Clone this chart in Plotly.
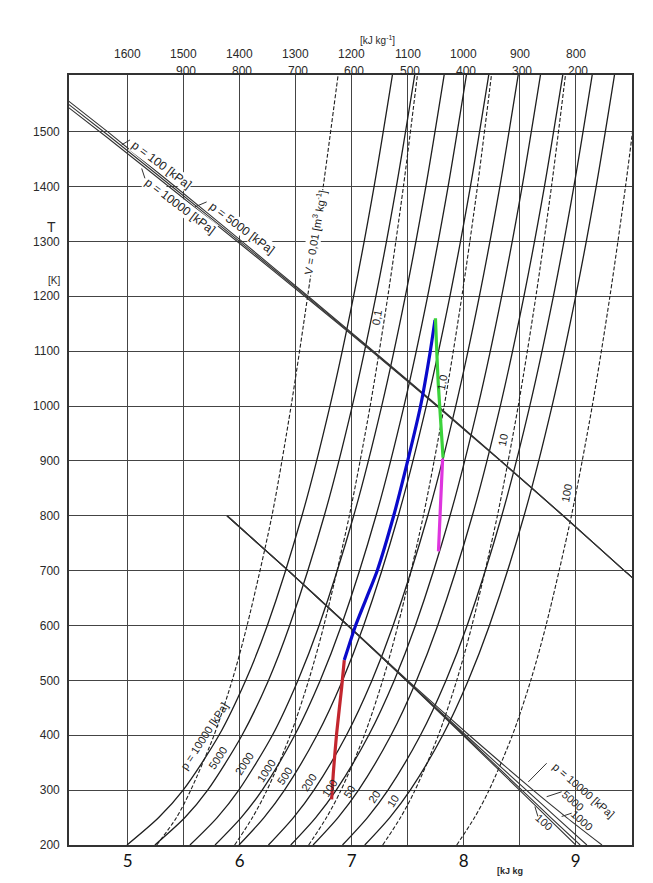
import plotly.graph_objects as go

# ---------------- data ----------------
T_grid = [200, 250, 300, 400, 500, 600, 800, 1000, 1200, 1400, 1605]

# isobars: entropy s [kJ/kg K] at T_grid
p10000_s = [4.994, 5.277, 5.495, 5.815, 6.053, 6.247, 6.556, 6.806, 7.017, 7.200, 7.365]
p5000_s = [5.243, 5.511, 5.714, 6.021, 6.257, 6.446, 6.755, 7.005, 7.216, 7.399, 7.564]
p2000_s = [5.556, 5.799, 5.992, 6.292, 6.520, 6.709, 7.018, 7.268, 7.479, 7.662, 7.827]
p1000_s = [5.780, 6.013, 6.201, 6.491, 6.719, 6.908, 7.217, 7.467, 7.678, 7.861, 8.026]
p500_s = [5.994, 6.217, 6.400, 6.690, 6.918, 7.107, 7.416, 7.666, 7.877, 8.060, 8.225]
p200_s = [6.257, 6.480, 6.663, 6.953, 7.181, 7.370, 7.679, 7.929, 8.140, 8.323, 8.488]
p100_s = [6.456, 6.679, 6.862, 7.152, 7.380, 7.569, 7.878, 8.128, 8.339, 8.522, 8.687]
p50_s = [6.655, 6.878, 7.061, 7.351, 7.579, 7.768, 8.077, 8.327, 8.538, 8.721, 8.886]
p20_s = [6.918, 7.141, 7.324, 7.614, 7.842, 8.031, 8.340, 8.590, 8.801, 8.984, 9.149]
p10_s = [7.117, 7.340, 7.523, 7.813, 8.041, 8.230, 8.539, 8.789, 9.000, 9.183, 9.348]

# isochores (dashed): entropy at T_grid
v001_s = [5.259, 5.436, 5.563, 5.771, 5.933, 6.066, 6.288, 6.459, 6.607, 6.746, 6.880]
v01_s = [5.955, 6.114, 6.244, 6.452, 6.616, 6.752, 6.979, 7.165, 7.323, 7.462, 7.588]
v1_s = [6.616, 6.775, 6.905, 7.113, 7.277, 7.413, 7.640, 7.826, 7.984, 8.123, 8.249]
v10_s = [7.277, 7.436, 7.566, 7.774, 7.938, 8.074, 8.301, 8.487, 8.645, 8.784, 8.910]
v100_s = [7.938, 8.097, 8.227, 8.435, 8.599, 8.735, 8.962, 9.148, 9.306, 9.445, 9.571]

# enthalpy guide lines, upper group (h 800..1600)
hup_s = [4.44, 4.820, 5.423, 6.020, 6.611, 7.195, 7.770, 8.334, 8.889, 9.434, 9.53]
hup_p100_T = [1561, 1500, 1400, 1300, 1200, 1100, 1000, 900, 800, 700, 683]
hup_p5000_T = [1555, 1494.5, 1395.5, 1296.5, 1197.5, 1098.5, 999, 899.5, 800, 700, 683]
hup_p10000_T = [1549, 1489, 1391, 1293, 1195, 1097, 998, 899, 800, 700, 683]

# enthalpy guide lines, lower group (h 200..900)
hlow_T = [800, 700, 600, 500, 400, 300, 250, 200]
hlow_p100_s = [5.887, 6.434, 6.965, 7.485, 7.995, 8.499, 8.750, 9.000]
hlow_p1000_s = [5.887, 6.434, 6.965, 7.488, 8.005, 8.520, 8.778, 9.040]
hlow_p5000_s = [5.887, 6.434, 6.966, 7.492, 8.020, 8.560, 8.830, 9.100]
hlow_p10000_s = [5.887, 6.434, 6.968, 7.500, 8.050, 8.620, 8.920, 9.235]

# process path (coloured)
red_s = [6.821, 6.836, 6.866, 6.911, 6.934]
red_T = [283, 331, 404, 488, 537]
blue_s = [6.934, 7.035, 7.132, 7.228, 7.375, 7.500, 7.615, 7.702, 7.744]
blue_T = [537, 600, 650, 700, 800, 900, 1000, 1100, 1157]
green_s = [7.748, 7.773, 7.816]
green_T = [1160, 1041, 906]
magenta_s = [7.812, 7.790, 7.775]
magenta_T = [904, 805, 735]

# axis ticks
s_ticks = [5, 6, 7, 8, 9]
s_half_ticks = [5.5, 6.5, 7.5, 8.5]
s_h_ticks = [5.0, 5.5, 6.0, 6.5, 7.0, 7.5, 8.0, 8.5, 9.0]
T_ticks = [200, 300, 400, 500, 600, 700, 800, 900, 1000, 1100, 1200, 1300, 1400, 1500]
h_top_row = ["1600", "1500", "1400", "1300", "1200", "1100", "1000", "900", "800"]
h_bottom_row = [None, "900", "800", "700", "600", "500", "400", "300", "200"]

# ---------------- figure ----------------
fig = go.Figure()
LINE = "#1e1e1e"
GRID = "#444444"

for s_vals in [p10000_s, p5000_s, p2000_s, p1000_s, p500_s, p200_s, p100_s, p50_s, p20_s, p10_s]:
    fig.add_trace(go.Scatter(x=s_vals, y=T_grid, mode="lines",
                             line=dict(color=LINE, width=1.3, shape="spline", smoothing=0.8),
                             hoverinfo="skip", showlegend=False))

for s_vals in [v001_s, v01_s, v1_s, v10_s, v100_s]:
    fig.add_trace(go.Scatter(x=s_vals, y=T_grid, mode="lines",
                             line=dict(color=LINE, width=1.1, dash="4px,2px", shape="spline", smoothing=0.8),
                             hoverinfo="skip", showlegend=False))

for T_vals in [hup_p100_T, hup_p5000_T, hup_p10000_T]:
    fig.add_trace(go.Scatter(x=hup_s, y=T_vals, mode="lines",
                             line=dict(color="#333333", width=1.1, shape="spline", smoothing=0.6),
                             hoverinfo="skip", showlegend=False))

for s_vals in [hlow_p100_s, hlow_p1000_s, hlow_p5000_s, hlow_p10000_s]:
    fig.add_trace(go.Scatter(x=s_vals, y=hlow_T, mode="lines",
                             line=dict(color="#333333", width=1.1, shape="spline", smoothing=0.6),
                             hoverinfo="skip", showlegend=False))

for sx, ty, col in [(red_s, red_T, "#c3262e"), (blue_s, blue_T, "#0a0acb"),
                    (green_s, green_T, "#3bd23b"), (magenta_s, magenta_T, "#de35de")]:
    fig.add_trace(go.Scatter(x=sx, y=ty, mode="lines",
                             line=dict(color=col, width=3.2, shape="spline", smoothing=0.6),
                             hoverinfo="skip", showlegend=False))

FONT = "Liberation Sans"
TXT = "#222222"
ann = []

# top enthalpy scale
for sv, t1, t2 in zip(s_h_ticks, h_top_row, h_bottom_row):
    ann.append(dict(x=sv, y=1.039, xref="x", yref="paper", text=t1, showarrow=False,
                    font=dict(family=FONT, size=12, color="#2a2a2a")))
    if t2:
        ann.append(dict(x=sv + 0.025, y=1.0165, xref="x", yref="paper", text=t2, showarrow=False,
                        font=dict(family=FONT, size=12, color="#2a2a2a")))
ann.append(dict(x=7.235, y=1.056, xref="x", yref="paper", text="[kJ kg<sup>-1</sup>]",
                showarrow=False, font=dict(family=FONT, size=10, color="#2a2a2a")))

# axis labels
ann.append(dict(x=-0.043, y=0.8156, xref="paper", yref="paper", text="T", showarrow=False,
                font=dict(family=FONT, size=14, color="#2a2a2a")))
ann.append(dict(x=-0.040, y=0.7429, xref="paper", yref="paper", text="[K]", showarrow=False,
                font=dict(family=FONT, size=10, color="#2a2a2a")))
ann.append(dict(x=8.413, y=-0.043, xref="x", yref="paper", text="<b>[kJ kg</b>", showarrow=False,
                font=dict(family=FONT, size=9, color="#2a2a2a")))

# isobar labels
for txt, sx, ty in [("p = 10000 [kPa]", 5.686, 398), ("5000", 5.806, 358), ("2000", 6.038, 348),
                    ("1000", 6.235, 335), ("500", 6.404, 325), ("200", 6.623, 314),
                    ("100", 6.806, 303), ("50", 6.976, 297.5), ("20", 7.199, 288), ("10", 7.369, 280)]:
    ann.append(dict(x=sx, y=ty, xref="x", yref="y", text=txt, showarrow=False, textangle=-57,
                    font=dict(family=FONT, size=11, color=TXT)))

# isochore labels
ann.append(dict(x=6.672, y=1317, xref="x", yref="y", text="V = 0,01 [m<sup>3</sup> kg<sup>-1</sup>]",
                showarrow=False, textangle=-80, bgcolor="white", borderpad=0,
                font=dict(family=FONT, size=11, color=TXT)))
for txt, sx, ty in [("0,1", 7.226, 1162), ("1,0", 7.807, 1042), ("10", 8.351, 938), ("100", 8.922, 841)]:
    ann.append(dict(x=sx, y=ty, xref="x", yref="y", text=txt, showarrow=False, textangle=-80,
                    font=dict(family=FONT, size=11, color=TXT)))

# enthalpy guide-line labels (upper)
for txt, sx, ty in [("p = 100 [kPa]", 5.303, 1439), ("p = 10000 [kPa]", 5.467, 1365),
                    ("p = 5000 [kPa]", 6.018, 1324)]:
    ann.append(dict(x=sx, y=ty, xref="x", yref="y", text=txt, showarrow=False, textangle=37,
                    bgcolor="white", borderpad=0, font=dict(family=FONT, size=12, color=TXT)))

# enthalpy guide-line labels (lower)
for txt, sx, ty in [("p = 10000 [kPa]", 9.068, 300), ("5000", 8.979, 281),
                    ("1000", 9.053, 246), ("100", 8.717, 242)]:
    ann.append(dict(x=sx, y=ty, xref="x", yref="y", text=txt, showarrow=False, textangle=41,
                    font=dict(family=FONT, size=11, color=TXT)))

# leader lines of the guide-line labels
leaders = [(4.946, 1476, 5.021, 1485), (5.125, 1433, 5.154, 1415), (5.601, 1363, 5.705, 1372),
           (8.577, 315, 8.741, 349), (8.741, 288, 8.875, 297), (8.875, 252, 8.964, 258),
           (8.636, 270, 8.663, 252)]
shapes = [dict(type="line", xref="x", yref="y", x0=a, y0=b, x1=c, y1=d,
               line=dict(color="#333", width=1)) for a, b, c, d in leaders]

fig.update_layout(
    width=653, height=883,
    margin=dict(l=69, r=21, t=75, b=38),
    paper_bgcolor="white", plot_bgcolor="white",
    showlegend=False,
    annotations=ann,
    shapes=shapes,
    xaxis=dict(range=[4.476, 9.503], tickmode="array", tickvals=s_ticks,
               showgrid=True, gridcolor=GRID, gridwidth=1.3, zeroline=False,
               minor=dict(tickmode="array", tickvals=s_half_ticks, showgrid=True,
                          gridcolor=GRID, gridwidth=1.3, ticks=""),
               showline=True, mirror=True, linecolor="#333", linewidth=1.6, ticks="",
               tickfont=dict(family="Lato", size=17, color="#111")),
    yaxis=dict(range=[200, 1603.3], tickmode="array", tickvals=T_ticks,
               showgrid=True, gridcolor=GRID, gridwidth=1.3, zeroline=False,
               showline=True, mirror=True, linecolor="#333", linewidth=1.6, ticks="",
               ticklabelstandoff=5,
               tickfont=dict(family=FONT, size=12, color="#2a2a2a")),
)

fig.write_html("out.html")
